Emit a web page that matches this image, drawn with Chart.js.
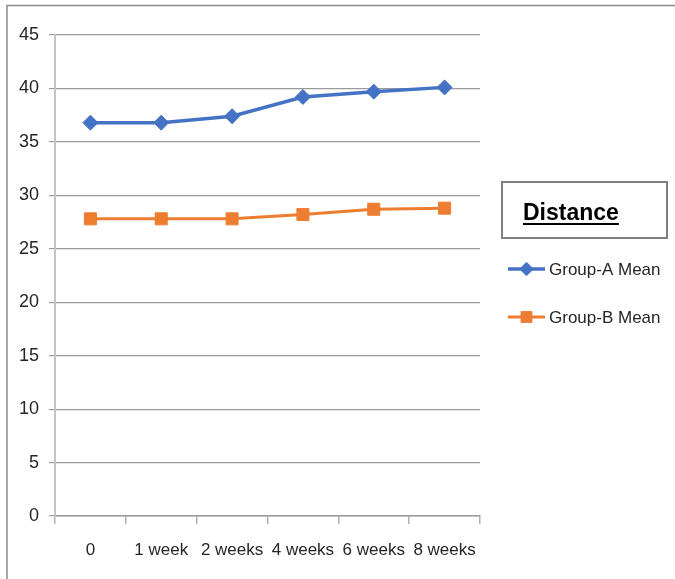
<!DOCTYPE html>
<html>
<head>
<meta charset="utf-8">
<script src="https://cdn.jsdelivr.net/npm/chart.js@4.4.0/dist/chart.umd.min.js"></script>
<style>
  html, body { margin: 0; padding: 0; background: #fff; }
  #wrap { width: 675px; height: 579px; position: relative; }
</style>
</head>
<body>
<div id="wrap"><canvas id="c" width="675" height="579"></canvas></div>
<script>
// Measurement points along the x axis
const timepoints = ['0', '1 week', '2 weeks', '4 weeks', '6 weeks', '8 weeks'];
// Mean distance per group at each time point
const groupAMean = [36.8, 36.8, 37.4, 39.2, 39.7, 40.1];
const groupBMean = [27.8, 27.8, 27.8, 28.2, 28.7, 28.8];
// Y axis range
const yMin = 0, yMax = 45, yStep = 5;
const legendTitle = 'Distance';

const FONT = '"Liberation Sans", Arial, sans-serif';
const BLUE = '#4472C4';
const ORANGE = '#ED7D31';

// Frame lines along the top and left edge of the page
const framePlugin = {
  id: 'frame',
  beforeDraw(chart) {
    const ctx = chart.ctx;
    ctx.save();
    ctx.fillStyle = '#fff';
    ctx.fillRect(0, 0, chart.width, chart.height);
    ctx.strokeStyle = '#8a8a8a';
    ctx.lineWidth = 1.5;
    ctx.beginPath();
    ctx.moveTo(7, chart.height);
    ctx.lineTo(7, 5.5);
    ctx.lineTo(chart.width, 5.5);
    ctx.stroke();
    ctx.restore();
  }
};

// Boxed legend title plus the series entries on the right
const sideLegend = {
  id: 'sideLegend',
  afterDraw(chart) {
    const ctx = chart.ctx;
    ctx.save();
    ctx.strokeStyle = '#808080';
    ctx.lineWidth = 2;
    ctx.strokeRect(502, 182, 165, 56);

    ctx.font = 'bold 23px "Liberation Sans", Arial, sans-serif';
    ctx.fillStyle = '#000';
    ctx.textBaseline = 'alphabetic';
    ctx.textAlign = 'left';
    const tx = 523, ty = 220;
    ctx.fillText(legendTitle, tx, ty);
    const w = ctx.measureText(legendTitle).width;
    ctx.fillRect(tx, ty + 3, w, 2);

    const rows = [269, 317];
    chart.data.datasets.forEach((ds, i) => {
      const y = rows[i];
      ctx.strokeStyle = ds.borderColor;
      ctx.lineWidth = ds.borderWidth;
      ctx.beginPath();
      ctx.moveTo(508, y);
      ctx.lineTo(545, y);
      ctx.stroke();
      ctx.fillStyle = ds.pointBackgroundColor;
      ctx.strokeStyle = ds.pointBorderColor;
      ctx.lineWidth = 1;
      Chart.helpers.drawPoint(ctx, {
        pointStyle: ds.pointStyle,
        radius: ds.pointRadius * 0.9,
        borderWidth: 1,
        rotation: 0
      }, 526.5, y);
      ctx.fillStyle = '#262626';
      ctx.font = '17px ' + FONT;
      ctx.textBaseline = 'middle';
      ctx.fillText(ds.label, 549, y + 1);
    });
    ctx.restore();
  }
};

new Chart(document.getElementById('c'), {
  type: 'line',
  data: {
    labels: timepoints,
    datasets: [
      {
        label: 'Group-A Mean',
        data: groupAMean,
        borderColor: BLUE,
        backgroundColor: BLUE,
        pointBackgroundColor: BLUE,
        pointBorderColor: BLUE,
        borderWidth: 3.5,
        pointStyle: 'rectRot',
        pointRadius: 7.5,
        pointBorderWidth: 1,
        tension: 0
      },
      {
        label: 'Group-B Mean',
        data: groupBMean,
        borderColor: ORANGE,
        backgroundColor: ORANGE,
        pointBackgroundColor: ORANGE,
        pointBorderColor: ORANGE,
        borderWidth: 3,
        pointStyle: 'rect',
        pointRadius: 8.5,
        pointBorderWidth: 1,
        tension: 0
      }
    ]
  },
  options: {
    responsive: false,
    animation: false,
    layout: { padding: { left: 0, top: 35, right: 195, bottom: 0 } },
    plugins: {
      legend: { display: false },
      tooltip: { enabled: false },
      title: { display: false }
    },
    scales: {
      x: {
        type: 'category',
        offset: true,
        grid: {
          offset: true,
          drawOnChartArea: false,
          drawTicks: true,
          tickLength: 8,
          color: '#b0b0b0',
          lineWidth: 1.5
        },
        border: { display: true, color: '#9a9a9a', width: 1.5 },
        ticks: {
          color: '#262626',
          font: { family: FONT, size: 17 },
          padding: 16,
          maxRotation: 0,
          autoSkip: false
        },
        afterFit(scale) { scale.height = 63; }
      },
      y: {
        min: yMin,
        max: yMax,
        grid: {
          color: '#9a9a9a',
          lineWidth: 1.2,
          drawTicks: true,
          tickLength: 6
        },
        border: { display: true, color: '#c4c4c4', width: 2 },
        ticks: {
          stepSize: yStep,
          color: '#262626',
          font: { family: FONT, size: 18 },
          padding: 10
        },
        afterFit(scale) { scale.width = 55; }
      }
    }
  },
  plugins: [framePlugin, sideLegend]
});
</script>
</body>
</html>
